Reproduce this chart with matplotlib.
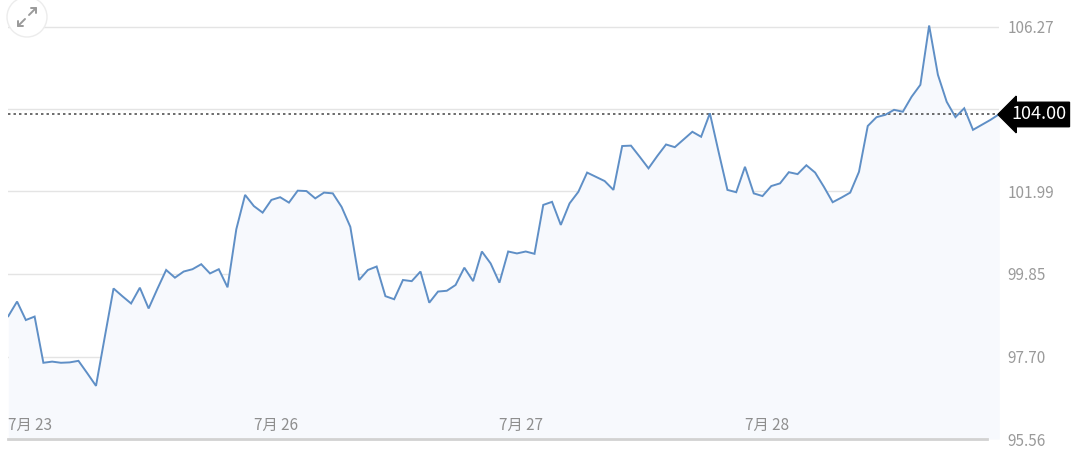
import matplotlib
matplotlib.use("Agg")
import matplotlib.pyplot as plt
from matplotlib.patches import Circle

plt.rcParams['font.family'] = ['Noto Sans CJK SC', 'DejaVu Sans']

# price readings, one every ~51 minutes (28 per trading day)
prices = [
    98.75, 99.13, 98.65, 98.74, 97.54, 97.57, 97.54, 97.55, 97.59, 97.27,
    96.94, 98.21, 99.47, 99.27, 99.08, 99.49, 98.95, 99.46, 99.95, 99.75,
    99.91, 99.97, 100.10, 99.86, 99.97, 99.50, 101.01, 101.90, 101.61, 101.44,
    101.77, 101.84, 101.70, 102.01, 102.00, 101.81, 101.96, 101.94, 101.59, 101.07,
    99.69, 99.95, 100.04, 99.27, 99.19, 99.69, 99.66, 99.91, 99.10, 99.39,
    99.41, 99.56, 100.01, 99.66, 100.43, 100.12, 99.62, 100.43, 100.38, 100.43,
    100.37, 101.64, 101.72, 101.12, 101.68, 101.98, 102.48, 102.37, 102.26, 102.03,
    103.17, 103.18, 102.89, 102.59, 102.91, 103.21, 103.14, 103.34, 103.54, 103.41,
    104.02, 103.01, 102.03, 101.97, 102.63, 101.94, 101.87, 102.13, 102.20, 102.49,
    102.44, 102.67, 102.48, 102.11, 101.71, 101.83, 101.96, 102.50, 103.69, 103.92,
    103.98, 104.11, 104.06, 104.45, 104.76, 106.30, 105.02, 104.32, 103.92, 104.15,
    103.59, 103.72, 103.85, 104.00,
]
day_labels = ['7月 23', '7月 26', '7月 27', '7月 28']
day_starts = [0, 28, 56, 84]
grid_levels = [95.56, 97.70, 99.85, 101.99, 104.13, 106.27]
grid_labels = ['95.56', '97.70', '99.85', '101.99', '', '106.27']
last_price = prices[-1]

W, H = 1080, 453
fig = plt.figure(figsize=(W / 100, H / 100), dpi=100)
fig.patch.set_facecolor('white')

# axes placed in pixel terms
left, right, bottom, top = 8.3, 999.3, 439, 5
ax = fig.add_axes([left / W, (H - bottom) / H, (right - left) / W, (bottom - top) / H])
ax.set_facecolor('none')

x = list(range(len(prices)))
ax.set_xlim(0, len(prices) - 1)
ax.set_ylim(95.56, 95.56 + (bottom - top) / 38.5)

for lv in grid_levels[1:]:
    ax.axhline(lv, color='#e4e4e4', lw=1, zorder=1)

ax.fill_between(x, prices, 95.56, color='#f7f9fd', zorder=2, lw=0)
ax.plot(x, prices, color='#5f8fc6', lw=1.4, zorder=4, solid_joinstyle='miter')

ax.axhline(last_price, color='#444444', lw=1.1, ls=(0, (1.6, 2)), zorder=3)
ax.axhline(95.56, xmax=0.988, color='#d2d2d2', lw=2, zorder=5, clip_on=False)

ax.annotate(f'{last_price:.2f}', xy=(1.0, last_price), xycoords=('axes fraction', 'data'),
            xytext=(8.5, -0.3), textcoords='offset points', va='center', ha='left',
            color='white', fontsize=13,
            bbox=dict(boxstyle='larrow,pad=0.18', fc='black', ec='black'),
            annotation_clip=False, zorder=10)

ax.set_yticks(grid_levels)
ax.set_yticklabels(grid_labels)
ax.yaxis.tick_right()
ax.tick_params(axis='y', length=0, pad=6, labelsize=11, labelcolor='#9a9a9a')
ax.set_xticks([])
for s in ax.spines.values():
    s.set_visible(False)

for d, lab in zip(day_starts, day_labels):
    ax.text(d, 95.56 + 14 / 38.5, lab, ha='left', va='center', fontsize=11, color='#8e8e8e', zorder=6)

# expand icon in the corner (pixel coords, y down)
ov = fig.add_axes([0, 0, 1, 1], facecolor='none')
ov.set_xlim(0, W)
ov.set_ylim(H, 0)
ov.axis('off')
ov.add_patch(Circle((27, 17), 20, fc='white', ec='#ececec', lw=1))
icon = dict(color='#9a9a9a', lw=1.4, solid_capstyle='round')
ov.plot([29, 36], [15, 8], **icon)
ov.plot([31, 36, 36], [8, 8, 13], **icon)
ov.plot([25, 18], [19, 26], **icon)
ov.plot([18, 18, 23], [21, 26, 26], **icon)

fig.savefig('out.png', dpi=100)
